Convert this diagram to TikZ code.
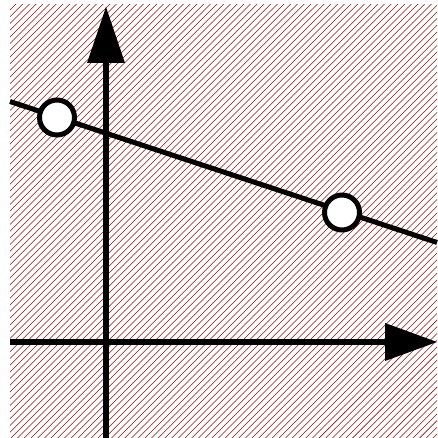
\documentclass[tikz,border=0pt]{standalone}
\definecolor{hatch}{RGB}{140,20,20}
\tikzset{
  hatchline/.style={draw=hatch, line width=0.55pt},
  axis/.style={draw=black, line width=6pt},
  tipfill/.style={fill=black},
  marker/.style={draw=black, fill=white, line width=5pt},
  graphline/.style={draw=black, line width=5pt}
}
\begin{document}
\begin{tikzpicture}[x=1pt,y=-1pt]
\useasboundingbox (0,0) rectangle (437,438);
\fill[white] (0,0) rectangle (437,438);
% hatching
\begin{scope}
\clip (10,5) rectangle (437,438);
\foreach \k in {0,...,135}{
  \pgfmathsetmacro{\a}{\k*6.7}
  \draw[hatchline] (\a-440,440) -- (\a,0);
}
\end{scope}
% axes
\draw[axis] (10,342) -- (390,342);
\fill[tipfill] (385,323) -- (437,342) -- (385,361) -- cycle;
\draw[axis] (106,438) -- (106,58);
\fill[tipfill] (87,63) -- (106,7) -- (125,63) -- cycle;
% line
\coordinate (L) at (10,101.5);
\coordinate (R) at (437,242.5);
\draw[graphline] (L) -- (R);
\node[circle, marker, minimum size=35pt, inner sep=0pt] (p1) at (57,117.5) {};
\node[circle, marker, minimum size=35pt, inner sep=0pt] (p2) at (342,212.5) {};
\end{tikzpicture}
\end{document}
